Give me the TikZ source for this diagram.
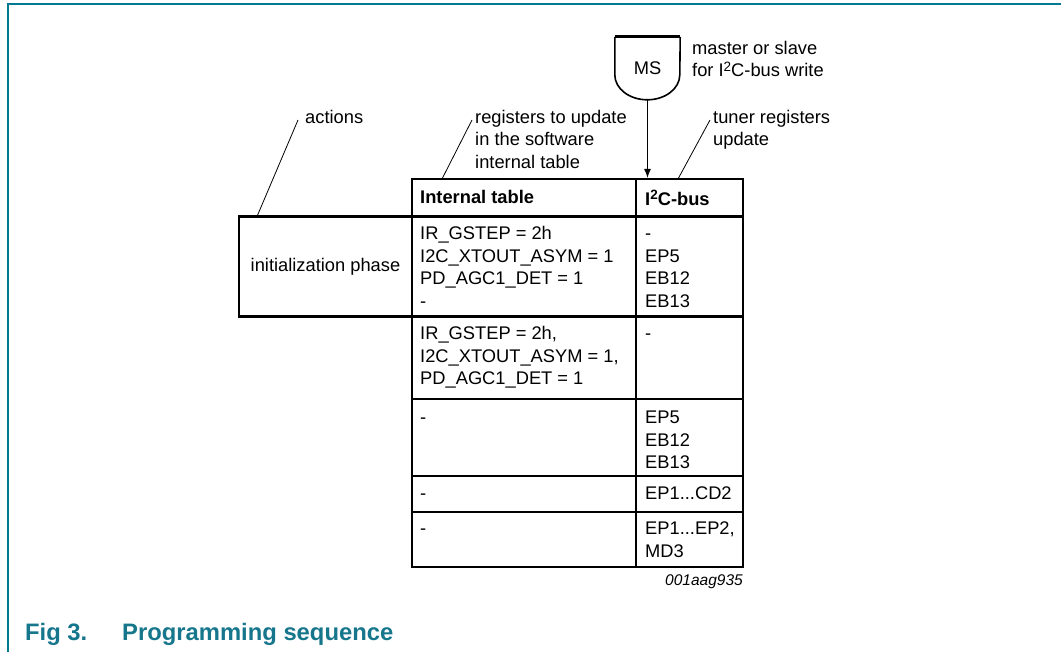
\documentclass[tikz,border=0pt]{standalone}
\usepackage{fontspec}
\setmainfont{Liberation Sans}
\usetikzlibrary{arrows.meta}
\definecolor{nxp}{RGB}{0,122,145}
\definecolor{nxpcap}{RGB}{22,118,140}
\newcommand{\capstrut}{\rule{0pt}{13.2pt}}
\newcommand{\suptwo}{\raisebox{5.5pt}{\fontsize{13.5}{13.5}\selectfont 2}}
\begin{document}
\begin{tikzpicture}[x=1pt,y=-1pt,
  txt/.style={font=\fontsize{18.3}{22.5}\selectfont, inner sep=0pt, align=left, anchor=north west},
  btxt/.style={txt, font=\fontsize{18.3}{22.5}\selectfont\bfseries},
  gridline/.style={line width=2.8pt},
  leader/.style={line width=0.8pt}]
\useasboundingbox (0,0) rectangle (1061,652);
% frame
\draw[nxp, line width=2pt] (8,652) -- (8,4) -- (1061,4);

% table grid
\draw[gridline] (412,179) rectangle (743,567);
\draw[gridline] (636,179) -- (636,567);
\foreach \yy in {216.5,316.5,399,476,512} \draw[gridline] (412,\yy) -- (743,\yy);
\draw[gridline] (239,216.5) rectangle (412,316.5);

% header
\node[btxt] (hdrA) at (420,190.3) {\capstrut Internal table};
\node[btxt] (hdrB) at (645,190.3) {\capstrut I\suptwo C-bus};

% rows
\node[txt] (r1a) at (420,226.3) {\capstrut IR\_GSTEP = 2h\\I2C\_XTOUT\_ASYM = 1\\PD\_AGC1\_DET = 1\\-};
\node[txt] (r1b) at (645,226.3) {\capstrut -\\EP5\\EB12\\EB13};
\node[txt] (r2a) at (420,326.3) {\capstrut IR\_GSTEP = 2h,\\I2C\_XTOUT\_ASYM = 1,\\PD\_AGC1\_DET = 1};
\node[txt] (r2b) at (645,326.3) {\capstrut -};
\node[txt] (r3a) at (420,410.3) {\capstrut -};
\node[txt] (r3b) at (645,410.3) {\capstrut EP5\\EB12\\EB13};
\node[txt] (r4a) at (420,486.3) {\capstrut -};
\node[txt] (r4b) at (645,486.3) {\capstrut EP1...CD2};
\node[txt] (r5a) at (420,521.3) {\capstrut -};
\node[txt] (r5b) at (645,521.3) {\capstrut EP1...EP2,\\MD3};

% action box text
\node[font=\fontsize{18.3}{22.5}\selectfont, inner sep=0pt] (init) at (325.5,266.5) {initialization phase};

% labels
\node[txt] (actions) at (305,109.8) {\capstrut actions};
\node[txt] (regs) at (475,109.8) {\capstrut registers to update\\in the software\\internal table};
\node[txt] (tuner) at (713,109.8) {\capstrut tuner registers\\update};
\node[txt] (master) at (692,40.8) {\capstrut master or slave\\for I\suptwo C-bus write};

% leader lines
\coordinate (actA) at (257,216.5);
\coordinate (actB) at (298,120);
\coordinate (regA) at (442,179);
\coordinate (regB) at (472,120);
\coordinate (tunA) at (678,179);
\coordinate (tunB) at (710,120);
\draw[leader] (actA) -- (actB);
\draw[leader] (regA) -- (regB);
\draw[leader] (tunA) -- (tunB);

% MS shape
\node[font=\fontsize{18.3}{22.5}\selectfont, minimum width=65pt, minimum height=63pt, inner sep=0pt] (ms) at (647.5,68.5) {MS};
\draw[line width=1.6pt] (ms.north west) -- ([yshift=-38pt]ms.north west)
  arc[start angle=180, end angle=360, x radius=32.5pt, y radius=25pt] -- (ms.north east);
\draw[line width=2.8pt] (ms.north west) -- (ms.north east);
\coordinate (tabtop) at (647.5,177.8);
\draw[line width=0.8pt, -{Latex[length=9pt,width=7pt]}] (ms.south) -- (tabtop);

% code
\node[anchor=base east, inner sep=0pt, font=\fontsize{15.5}{18}\selectfont\itshape] (code) at (743,585) {001aag935};

% caption
\node[anchor=base west, inner sep=0pt, text=nxpcap, font=\fontsize{23.8}{28}\selectfont\bfseries] (fig) at (25,640) {Fig 3.};
\node[anchor=base west, inner sep=0pt, text=nxpcap, font=\fontsize{23.8}{28}\selectfont\bfseries] (title) at (122,640) {Programming sequence};
\end{tikzpicture}
\end{document}
